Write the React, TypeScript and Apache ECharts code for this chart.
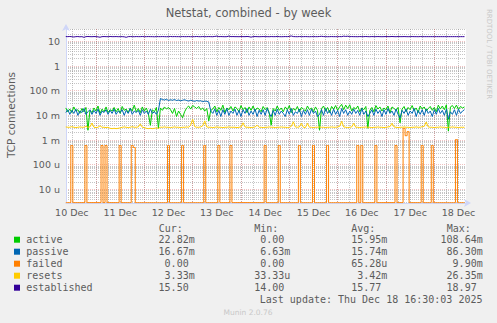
import React, { useEffect, useRef } from 'react';
import * as echarts from 'echarts';

// ---- time base: x values are days since 10 Dec 00:00, samples are hourly from 10 Dec 09:00
const START_DAY = 0.375;
const X_MIN = 0.3793;
const X_MAX = 8.656;
// ---- y values are log10 of the value
const Y_MIN = -5.55;
const Y_MAX = 1.5;
const ZERO_LOG = -5.535;

const dayLabels = ['10 Dec', '11 Dec', '12 Dec', '13 Dec', '14 Dec', '15 Dec', '16 Dec', '17 Dec', '18 Dec'];
const yTickExponents = [1, 0, -1, -2, -3, -4, -5];
const yTickLabels = ['10', '1', '100 m', '10 m', '1 m', '100 u', '10 u'];
const minorMultipliers = [2, 3, 4, 5, 6, 7, 8, 9];

// values in milli (m)
const activeM = [
  20, 14, 18, 13, 22, 15, 17, 12, 19, 14, 21, 2.5,
  16, 13, 20, 15, 24, 12, 18, 14, 22, 13, 17, 15,
  21, 14, 19, 12, 23, 16, 18, 13, 20, 15, 26, 14,
  19, 13, 22, 15, 20, 12, 4, 17, 14, 21, 3,
  20, 16, 22, 18, 21, 17, 12, 19, 9, 15, 11, 8,
  14, 20, 24, 18, 25, 22, 19, 23, 17, 20, 15, 19,
  6, 16,
  18, 24, 14, 21, 16, 26, 13, 20, 17, 23, 15, 22,
  19, 14, 25, 17, 21, 13, 22, 16, 24, 15, 20, 18,
  14, 23, 17, 21, 13, 4, 19, 15, 24, 16, 20, 14,
  22, 17, 25, 13, 19, 16, 23, 14, 21, 18, 15, 24,
  17, 20, 14, 22, 16, 2.5, 19, 24, 15, 21, 13, 23,
  18, 25, 16, 22, 28, 17, 26, 19, 27, 15, 21, 18,
  24, 14, 20, 17, 23, 3, 16, 21, 14, 25, 18, 22,
  15, 20, 17, 24, 13, 22, 19, 16, 21, 5, 18, 23,
  14, 21, 17, 25, 16, 20, 13, 24, 18, 22, 15, 19,
  23, 16, 21, 14, 26, 18, 24, 17, 27, 2.3, 22, 25,
  19, 26, 17, 23, 20, 22,
];

const passiveM = [
  13, 17, 11, 16, 12, 18, 10, 15, 13, 19, 11, 14,
  17, 11, 16, 12, 18, 10, 15, 13, 17, 11, 16, 12,
  18, 11, 15, 13, 17, 10, 16, 12, 19, 11, 15, 13,
  16, 10, 17, 12, 15, 11, 18, 12, 14, 11, 16,
  48, 44, 42, 45, 40, 43, 41, 44, 40, 42, 39, 41,
  43, 40, 38, 41, 39, 37, 40, 38, 39, 36, 38, 37,
  35, 15,
  12, 18, 10, 16, 9, 17, 11, 19, 10, 15, 12, 18,
  10, 16, 9, 17, 12, 19, 10, 15, 11, 18, 9, 16,
  11, 17, 10, 19, 12, 9, 16, 10, 18, 11, 15, 12,
  9, 17, 11, 19, 10, 14, 12, 18, 9, 16, 11, 17,
  10, 18, 12, 15, 9, 11, 17, 10, 19, 12, 16, 10,
  18, 11, 16, 9, 19, 12, 17, 10, 15, 11, 18, 12,
  16, 10, 19, 11, 15, 9, 12, 17, 10, 18, 12, 16,
  9, 17, 11, 19, 12, 15, 10, 18, 11, 8, 16, 12,
  18, 10, 15, 12, 19, 9, 16, 11, 17, 10, 18, 12,
  15, 9, 17, 11, 19, 12, 16, 10, 18, 7, 14, 11,
  17, 10, 18, 12, 15, 17,
];

const failedM = [
  0, 0, 0, .6, 0, 0, 0, 0, 0, 0, .6, 0,
  0, 0, 0, 0, 0, 0, .6, 0, .6, 0, 0, 0,
  0, 0, 0, .6, 0, 0, 0, 0, 0, .6, .5, 0,
  0, 0, 0, 0, 0, 0, 0, 0, 0, 0, 0, 0,
  0, 0, 0, .6, 0, 0, 0, 0, 0, 0, .6, 0,
  0, 0, 0, 0, 0, 0, 0, 0, 0, .6, 0, 0,
  0, 0, 0, 0, .6, 0, 0, 0, 0, 0, .6, 0,
  0, 0, 0, 0, 0, 0, 0, 0, 0, 0, 0, 0,
  0, 0, 0, .6, 0, 0, 0, 0, 0, 0, .6, 0,
  0, 0, 0, 0, 0, 0, 0, 0, .6, 0, 0, 0,
  0, 0, 0, .6, 0, 0, 0, 0, 0, 0, .6, 0,
  0, 0, 0, 0, 0, 0, 0, 0, 0, 0, 0, 0,
  0, .6, 0, .6, 0, 0, 0, 0, 0, 0, .6, 0,
  0, 0, 0, 0, 0, 0, 0, 0, .6, 0, 0, 0,
  3, 1.5, 2.2, 0, 0, 0, 0, 0, 0, .6, 0, 0,
  0, 0, .6, 0, 0, 0, 0, 0, 0, 0, 0, 0,
  0, 0, 1.05, 0, 0, 0, 0,
];

const resetsM = [
  3.4, 3.3, 3.3, 3.5, 3.3, 3.2, 3.3, 3.4, 3.3, 3.3, 3.6, 3.3,
  3.4, 4.9, 3.3, 3.2, 3.3, 3.8, 3.3, 3.3, 3.2, 3.3, 3.0, 2.9,
  3.0, 2.9, 3.0, 3.1, 3.3, 3.4, 3.3, 3.2, 3.3, 3.5, 3.3, 3.3,
  3.4, 4.5, 3.3, 3.2, 3.0, 2.9, 3.0, 2.9, 3.0, 3.1, 3.0, 3.3,
  3.3, 3.4, 3.3, 3.3, 3.2, 3.3, 3.4, 3.3, 3.3, 3.2, 3.3, 3.3,
  3.4, 3.3, 4.0, 7.0, 3.5, 3.3, 3.3, 3.4, 3.8, 6.0, 3.4, 3.3,
  3.3, 3.2, 3.3, 3.4, 3.3, 3.3, 3.2, 3.3, 3.3, 3.4, 3.3, 3.3,
  3.3, 3.2, 3.3, 3.4, 5.0, 3.4, 3.3, 3.3, 3.2, 3.3, 3.4, 4.0,
  3.3, 3.3, 3.2, 3.3, 3.3, 3.4, 3.3, 3.3, 3.2, 3.3, 3.3, 3.4,
  3.3, 3.3, 3.2, 3.3, 3.6, 5.5, 3.4, 3.3, 3.4, 4.8, 3.3, 3.2,
  4.8, 3.3, 3.3, 3.2, 3.3, 3.3, 3.4, 3.3, 3.3, 3.2, 3.3, 3.3,
  3.4, 3.3, 3.3, 3.4, 3.6, 5.8, 3.4, 3.3, 3.2, 3.3, 3.4, 4.8,
  3.3, 3.3, 3.2, 3.3, 3.3, 3.4, 3.3, 3.3, 3.2, 3.3, 3.3, 3.4,
  3.3, 3.3, 3.2, 3.3, 3.4, 3.5, 4.8, 3.4, 3.3, 3.2, 3.3, 3.3,
  3.4, 3.3, 3.3, 3.2, 3.3, 3.3, 3.4, 3.3, 3.3, 3.5, 3.6, 5.4,
  3.4, 3.3, 3.3, 3.2, 3.3, 3.3, 3.4, 3.3, 3.3, 3.2, 3.3, 3.3,
  3.4, 3.3, 3.3, 3.2, 3.3, 3.3, 3.3,
];

// values in units
const established = [
  15.6, 15.5, 15.7, 15.4, 15.0, 15.5, 15.6, 15.3, 15.5, 14.6, 15.5, 15.7,
  15.5, 15.4, 15.6, 15.5, 15.2, 14.7, 15.5, 15.6, 15.5, 15.4, 15.7, 15.5,
  15.5, 15.6, 15.4, 15.5, 15.5, 15.3, 14.6, 15.5, 15.6, 15.5, 15.4, 15.6,
  15.5, 15.5, 15.7, 15.4, 15.5, 15.6, 15.5, 15.5, 15.3, 15.6, 15.5, 15.5,
  15.6, 15.5, 15.4, 15.5, 15.7, 15.5, 15.6, 15.5, 15.5, 15.4, 15.6, 15.5,
  15.5, 15.6, 15.4, 15.5, 15.5, 15.7, 15.5, 15.4, 15.6, 15.5, 15.5, 15.6,
  15.5, 15.4, 15.8, 16.2, 15.5, 15.6, 15.5, 15.4, 15.5, 16.3, 15.5, 15.6,
  15.5, 15.5, 15.4, 15.6, 15.5, 15.5, 15.7, 15.5, 14.8, 15.5, 15.6, 15.5,
  15.4, 15.5, 15.6, 15.5, 15.5, 15.4, 15.6, 15.5, 15.5, 15.7, 15.5, 15.4,
  15.5, 15.6, 15.5, 15.8, 16.5, 15.6, 15.5, 15.4, 15.6, 15.5, 15.5, 15.6,
  15.5, 15.4, 15.5, 15.6, 15.5, 15.5, 15.7, 16.0, 15.6, 15.5, 15.4, 15.5,
  15.6, 15.5, 15.5, 15.4, 15.6, 15.5, 16.2, 15.8, 16.1, 15.5, 15.6, 15.5,
  15.5, 15.4, 15.6, 15.5, 15.5, 15.7, 15.5, 15.4, 15.6, 15.5, 15.5, 15.6,
  15.5, 15.4, 15.5, 15.6, 15.5, 15.5, 15.7, 15.5, 15.4, 15.6, 15.5, 15.5,
  15.6, 15.5, 15.4, 15.5, 15.6, 15.5, 15.5, 15.4, 15.6, 15.5, 15.5, 15.5,
  15.5, 15.5, 15.5, 15.5, 15.5, 15.5, 15.5, 15.5, 15.5, 15.5, 15.5, 15.5,
  15.5, 15.5, 15.5, 15.5, 15.5, 15.5, 15.5,
];

const legendNames = ['active', 'passive', 'failed', 'resets', 'established'];
const legendColors = ['#00CC00', '#0066B3', '#FF8000', '#FFCC00', '#330099'];
const legendCur = ['22.82m', '16.67m', '0.00', '3.33m', '15.50'];
const legendMin = ['0.00', '6.63m', '0.00', '33.33u', '14.00'];
const legendAvg = ['15.95m', '15.74m', '65.28u', '3.42m', '15.77'];
const legendMax = ['108.64m', '86.30m', '9.90m', '26.35m', '18.97'];
const legendHeaders = ['Cur:', 'Min:', 'Avg:', 'Max:'];
const lastUpdate = 'Last update: Thu Dec 18 16:30:03 2025';

const TEXT = '#5c5c5c';
const GRID_MINOR = 'rgba(140,140,140,0.5)';
const GRID_MAJOR = 'rgba(215,100,100,0.4)';
const AXIS = '#CFD6F8';
const SANS = 'DejaVu Sans';
const MONO = 'DejaVu Sans Mono';

function toLog(v: number) {
  return v > 0 ? Math.log10(v) : ZERO_LOG;
}
function mkData(vals: number[], scale: number) {
  return vals.map((v, i) => [START_DAY + i / 24, toLog(v * scale)]);
}

function isInt(v: number) {
  return Math.abs(v - Math.round(v)) < 1e-6;
}

export default function App() {
  const ref = useRef<HTMLDivElement>(null);
  useEffect(() => {
    const chart = echarts.init(ref.current!, null, { renderer: 'svg' });

    const gridLine = (color: string) => ({
      show: true,
      showMinLine: false,
      showMaxLine: false,
      lineStyle: { color, width: 1, type: [1, 1] as any },
    });

    const hidden = {
      axisLine: { show: false, onZero: false },
      axisTick: { show: false },
      axisLabel: { show: false },
    };

    const xAxes: any[] = [
      {
        type: 'value', min: X_MIN, max: X_MAX, minInterval: 0.25, maxInterval: 0.25,
        position: 'bottom',
        axisLine: { show: true, onZero: false, lineStyle: { color: AXIS, width: 1 }, symbol: ['none', 'arrow'], symbolSize: [6, 7], symbolOffset: [0, 5] },
        axisTick: { show: false }, axisLabel: { show: false },
        splitLine: gridLine(GRID_MINOR),
      },
      {
        type: 'value', min: X_MIN, max: X_MAX, minInterval: 1, maxInterval: 1,
        position: 'bottom', ...hidden,
        splitLine: gridLine(GRID_MAJOR),
      },
      {
        type: 'value', min: X_MIN + 0.5, max: X_MAX + 0.5, minInterval: 1, maxInterval: 1,
        position: 'bottom',
        axisLine: { show: false, onZero: false }, axisTick: { show: false },
        splitLine: { show: false },
        axisLabel: {
          show: true, margin: 4, color: TEXT, fontFamily: SANS, fontSize: 9.5,
          showMinLabel: false, showMaxLabel: false,
          formatter: (v: number) => (isInt(v) ? dayLabels[Math.round(v) - 1] ?? '' : ''),
        },
      },
    ];

    const yAxes: any[] = [
      {
        type: 'value', min: Y_MIN, max: Y_MAX, minInterval: 1, maxInterval: 1,
        position: 'left',
        axisLine: { show: true, onZero: false, lineStyle: { color: AXIS, width: 1 }, symbol: ['none', 'arrow'], symbolSize: [6, 7], symbolOffset: [0, 5] },
        axisTick: { show: false },
        axisLabel: {
          show: true, margin: 6, color: TEXT, fontFamily: SANS, fontSize: 9.5,
          showMinLabel: false, showMaxLabel: false,
          formatter: (v: number) => {
            if (!isInt(v)) return '';
            const k = yTickExponents.indexOf(Math.round(v));
            return k >= 0 ? yTickLabels[k] : '';
          },
        },
        splitLine: gridLine(GRID_MAJOR),
      },
      ...minorMultipliers.map((m) => ({
        type: 'value', min: Y_MIN - Math.log10(m), max: Y_MAX - Math.log10(m),
        minInterval: 1, maxInterval: 1, position: 'left', ...hidden,
        splitLine: gridLine(GRID_MINOR),
      })),
    ];

    const seriesDefs = [
      { vals: activeM, scale: 1e-3, step: false },
      { vals: passiveM, scale: 1e-3, step: false },
      { vals: failedM, scale: 1e-3, step: 'middle' },
      { vals: resetsM, scale: 1e-3, step: false },
      { vals: established, scale: 1, step: false },
    ];

    const series = seriesDefs.map((d, k) => ({
      type: 'line',
      name: legendNames[k],
      xAxisIndex: 0,
      yAxisIndex: 0,
      data: mkData(d.vals, d.scale),
      step: d.step,
      showSymbol: false,
      symbol: 'none',
      lineStyle: { color: legendColors[k], width: 1 },
      itemStyle: { color: legendColors[k] },
      z: 3 + k,
      silent: true,
    }));

    const colRight = [194.7, 290.3, 387.3, 482.7];
    const colHeaderX = [158.7, 254.3, 351.3, 446.7];
    const CW = 6.02;
    const rowY = [239.7, 251.7, 263.7, 275.7, 287.7];
    const cols = [legendCur, legendMin, legendAvg, legendMax];

    const graphics: any[] = [
      {
        type: 'text', x: 248.5, y: 13,
        style: { text: 'Netstat, combined - by week', fill: TEXT, font: `11.5px "${SANS}"`, align: 'center', verticalAlign: 'middle' },
      },
      {
        type: 'text', x: 11, y: 115, rotation: Math.PI / 2,
        style: { text: 'TCP connections', fill: TEXT, font: `10.5px "${SANS}"`, align: 'center', verticalAlign: 'middle' },
      },
      {
        type: 'text', x: 489, y: 54, rotation: -Math.PI / 2,
        style: { text: 'RRDTOOL / TOBI OETIKER', fill: '#c8c8c8', font: `7px "${SANS}"`, align: 'center', verticalAlign: 'middle' },
      },
      ...legendHeaders.map((h, c) => ({
        type: 'text', x: colHeaderX[c], y: 228.3,
        style: { text: h, fill: TEXT, font: `10px "${MONO}"`, align: 'left', verticalAlign: 'middle' },
      })),
      {
        type: 'text', x: 482.5, y: 299.3,
        style: { text: lastUpdate, fill: TEXT, font: `10px "${MONO}"`, align: 'right', verticalAlign: 'middle' },
      },
      {
        type: 'text', x: 248, y: 312.5,
        style: { text: 'Munin 2.0.76', fill: '#c8c8c8', font: `7.5px "${SANS}"`, align: 'center', verticalAlign: 'middle' },
      },
    ];

    legendNames.forEach((name, r) => {
      graphics.push({
        type: 'rect', shape: { x: 14, y: rowY[r] - 3, width: 6, height: 6 },
        style: { fill: legendColors[r] },
      });
      graphics.push({
        type: 'text', x: 26.3, y: rowY[r],
        style: { text: name, fill: TEXT, font: `10px "${MONO}"`, align: 'left', verticalAlign: 'middle' },
      });
      cols.forEach((col, c) => {
        const s = col[r];
        const hasUnit = /[a-z]$/.test(s);
        graphics.push({
          type: 'text', x: colRight[c] - (hasUnit ? 0 : CW), y: rowY[r],
          style: { text: s, fill: TEXT, font: `10px "${MONO}"`, align: 'right', verticalAlign: 'middle' },
        });
      });
    });

    chart.setOption({
      animation: false,
      backgroundColor: '#F0F0F0',
      grid: { left: 66, top: 29, width: 400, height: 174, show: true, backgroundColor: '#FFFFFF', borderWidth: 0, containLabel: false },
      xAxis: xAxes,
      yAxis: yAxes,
      series,
      graphic: graphics,
    });

    return () => chart.dispose();
  }, []);

  return <div ref={ref} style={{ position: 'fixed', left: 0, top: 0, width: 497, height: 323 }} />;
}
